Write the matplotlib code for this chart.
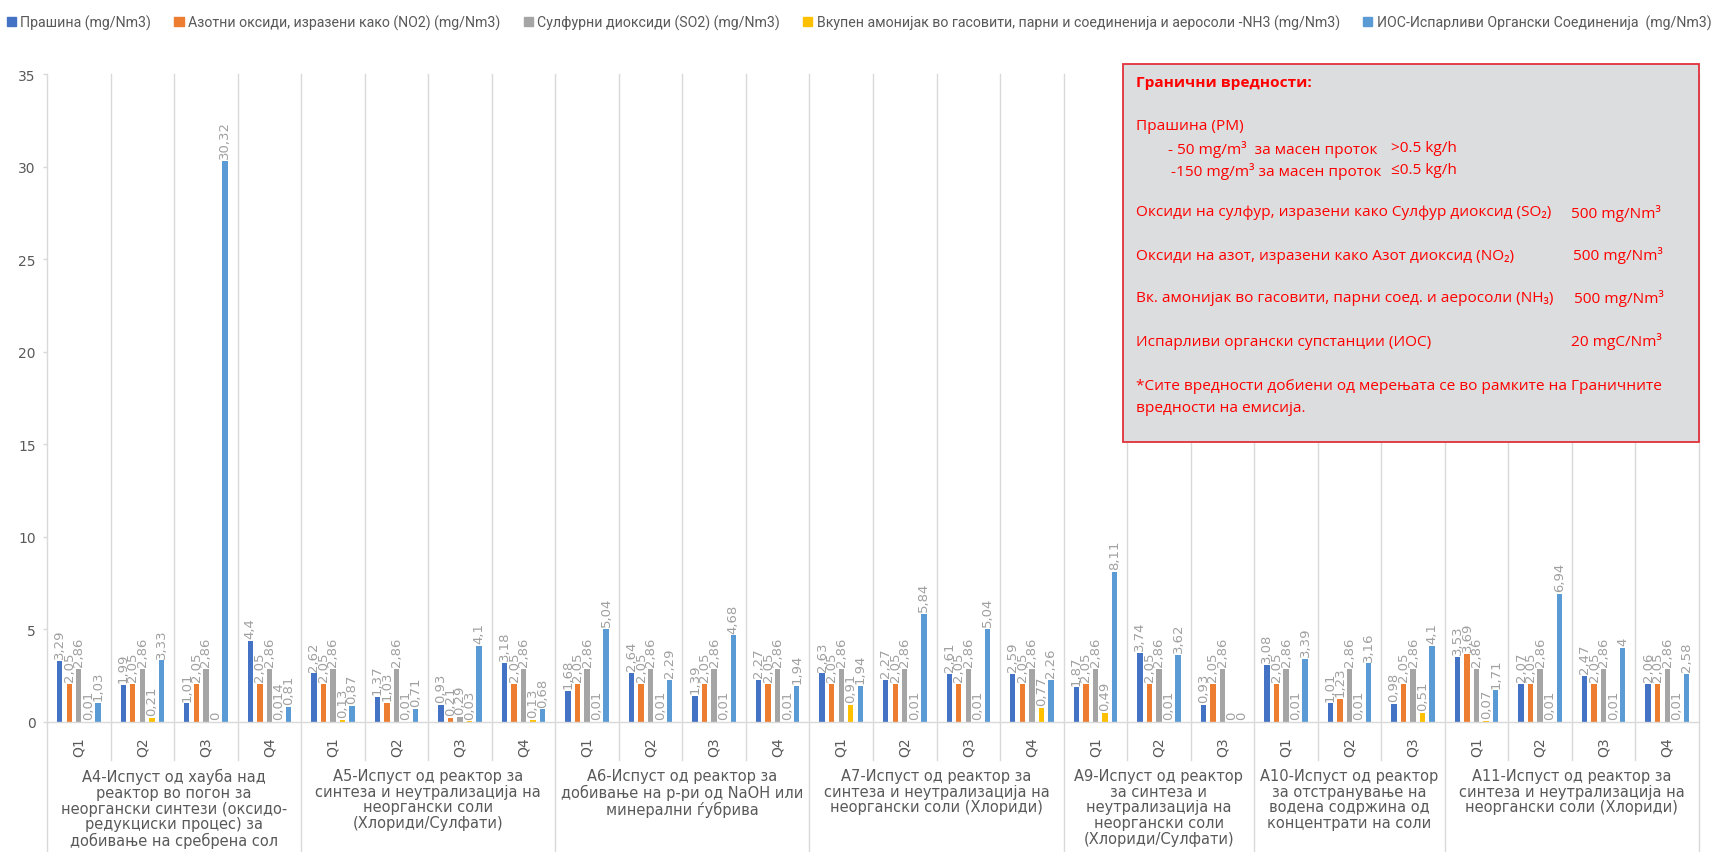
import matplotlib
matplotlib.use("Agg")
import matplotlib.pyplot as plt
from matplotlib.patches import Rectangle
from matplotlib.transforms import blended_transform_factory
import numpy as np

# ---------------- data ----------------
group_labels = [
    "A4-Испуст од хауба над\nреактор во погон за\nнеоргански синтези (оксидо-\nредукциски процес) за\nдобивање на сребрена сол",
    "A5-Испуст од реактор за\nсинтеза и неутрализација на\nнеоргански соли\n(Хлориди/Сулфати)",
    "A6-Испуст од реактор за\nдобивање на р-ри од NaOH или\nминерални ѓубрива",
    "A7-Испуст од реактор за\nсинтеза и неутрализација на\nнеоргански соли (Хлориди)",
    "A9-Испуст од реактор\nза синтеза и\nнеутрализација на\nнеоргански соли\n(Хлориди/Сулфати)",
    "A10-Испуст од реактор\nза отстранување на\nводена содржина од\nконцентрати на соли",
    "A11-Испуст од реактор за\nсинтеза и неутрализација на\nнеоргански соли (Хлориди)",
]
group_sizes = [4, 4, 4, 4, 3, 3, 4]
quarters = ["Q1", "Q2", "Q3", "Q4",
            "Q1", "Q2", "Q3", "Q4",
            "Q1", "Q2", "Q3", "Q4",
            "Q1", "Q2", "Q3", "Q4",
            "Q1", "Q2", "Q3",
            "Q1", "Q2", "Q3",
            "Q1", "Q2", "Q3", "Q4"]

dust = [3.29, 1.99, 1.01, 4.4,
        2.62, 1.37, 0.93, 3.18,
        1.68, 2.64, 1.39, 2.27,
        2.63, 2.27, 2.61, 2.59,
        1.87, 3.74, 0.93,
        3.08, 1.01, 0.98,
        3.53, 2.07, 2.47, 2.06]
no2 = [2.05, 2.05, 2.05, 2.05,
       2.05, 1.03, 0.21, 2.05,
       2.05, 2.05, 2.05, 2.05,
       2.05, 2.05, 2.05, 2.05,
       2.05, 2.05, 2.05,
       2.05, 1.23, 2.05,
       3.69, 2.05, 2.05, 2.05]
so2 = [2.86, 2.86, 2.86, 2.86,
       2.86, 2.86, 0.29, 2.86,
       2.86, 2.86, 2.86, 2.86,
       2.86, 2.86, 2.86, 2.86,
       2.86, 2.86, 2.86,
       2.86, 2.86, 2.86,
       2.86, 2.86, 2.86, 2.86]
nh3 = [0.01, 0.21, 0, 0.014,
       0.13, 0.01, 0.03, 0.13,
       0.01, 0.01, 0.01, 0.01,
       0.91, 0.01, 0.01, 0.77,
       0.49, 0.01, 0,
       0.01, 0.01, 0.51,
       0.07, 0.01, 0.01, 0.01]
voc = [1.03, 3.33, 30.32, 0.81,
       0.87, 0.71, 4.1, 0.68,
       5.04, 2.29, 4.68, 1.94,
       1.94, 5.84, 5.04, 2.26,
       8.11, 3.62, 0,
       3.39, 3.16, 4.1,
       1.71, 6.94, 4, 2.58]

series_names = [
    "Прашина (mg/Nm3)",
    "Азотни оксиди, изразени како (NO2) (mg/Nm3)",
    "Сулфурни диоксиди (SO2) (mg/Nm3)",
    "Вкупен амонијак во гасовити, парни и соединенија и аеросоли -NH3 (mg/Nm3)",
    "ИОС-Испарливи Органски Соединенија  (mg/Nm3)",
]
series_values = [dust, no2, so2, nh3, voc]
series_colors = ["#4472C4", "#ED7D31", "#A5A5A5", "#FFC000", "#5B9BD5"]

y_ticks = [0, 5, 10, 15, 20, 25, 30, 35]

# ---------------- figure ----------------
W, H = 1718, 853
fig = plt.figure(figsize=(W / 100, H / 100), dpi=100)
left_px, right_px, top_px, zero_px = 47, 1699, 75, 723
ax = fig.add_axes([left_px / W, 1 - zero_px / H,
                   (right_px - left_px) / W, (zero_px - top_px) / H])

n = len(quarters)
x = np.arange(n)
step = 0.15
bw = 0.085
label_color = "#A0A0A0"
text_gray = "#595959"
grid_color = "#D9D9D9"

for k, (vals, col) in enumerate(zip(series_values, series_colors)):
    pos = x + (k - 2) * step
    bars = ax.bar(pos, vals, width=bw, color=col, label=series_names[k], zorder=3)
    labels = [f"{v:g}".replace(".", ",") for v in vals]
    ax.bar_label(bars, labels=labels, rotation=90, padding=2,
                 color=label_color, fontsize=9.5, family="DejaVu Sans")

ax.set_xlim(-0.5, n - 0.5)
ax.set_ylim(0, 35)
ax.set_yticks(y_ticks)
ax.set_yticklabels([str(t) for t in y_ticks])
ax.tick_params(axis="y", length=3, width=1, color=grid_color, labelcolor=text_gray,
               labelsize=10, pad=5)
ax.set_xticks([])
for s in ["left", "right", "top"]:
    ax.spines[s].set_visible(False)
ax.spines["bottom"].set_color(grid_color)
ax.spines["bottom"].set_linewidth(1)
ax.spines["bottom"].set_zorder(4)

trans = blended_transform_factory(ax.transData, ax.transAxes)
ax_h_px = zero_px - top_px

def ay(px):
    # figure pixel y (from top) -> axes fraction
    return (zero_px - px) / ax_h_px

# group boundaries
bounds = np.cumsum([0] + group_sizes)
group_edges = set(bounds.tolist())
for i in range(n + 1):
    xb = i - 0.5
    ybot = ay(H) if i in group_edges else ay(761)
    ax.plot([xb, xb], [1, ybot], color=grid_color, lw=1, transform=trans,
            clip_on=False, zorder=1)

# quarter labels
for i, q in enumerate(quarters):
    ax.text(i, ay(747), q, rotation=90, ha="center", va="center",
            color=text_gray, fontsize=10, transform=trans, clip_on=False)

# group labels
for g, lab in enumerate(group_labels):
    cx = (bounds[g] + bounds[g + 1] - 1) / 2
    ax.text(cx, ay(769), lab, ha="center", va="top", color=text_gray,
            fontsize=10.5, linespacing=1.06, transform=trans, clip_on=False)

# legend
handles = [Rectangle((0, 0), 1, 1, color=c) for c in series_colors]
fig.legend(handles, series_names, loc="upper center", bbox_to_anchor=(0.5, 1.0),
           ncol=5, frameon=False, handlelength=0.65, handleheight=0.65,
           handletextpad=0.3, columnspacing=1.65,
           labelcolor=text_gray, prop={"family": ["Roboto", "DejaVu Sans"], "size": 10.2},
           borderaxespad=0.7)

# annotation box
bx0, by0, bx1, by1 = 1123, 65, 1699, 443
fig.add_artist(Rectangle((bx0 / W, 1 - by1 / H), (bx1 - bx0) / W, (by1 - by0) / H,
                         transform=fig.transFigure, facecolor="#DCDDDE",
                         edgecolor="#E0303A", lw=1.3, zorder=10))

red = "#FF0000"
fam = ["Open Sans", "DejaVu Sans"]

def ftext(px, py, s, **kw):
    fig.text(px / W, 1 - py / H, s, color=red, family=fam, fontsize=11.1,
             va="center", ha="left", zorder=11, **kw)

ftext(1136, 83, "Гранични вредности:", fontweight="bold")
ftext(1136, 127, "Прашина (PM)")
ftext(1168, 149, "- 50 mg/m³  за масен проток")
ftext(1391, 149, ">0.5 kg/h")
ftext(1171, 171, "-150 mg/m³ за масен проток")
ftext(1391, 171, "≤0.5 kg/h")
ftext(1136, 213, "Оксиди на сулфур, изразени како Сулфур диоксид (SO₂)")
ftext(1571, 213, "500 mg/Nm³")
ftext(1136, 256, "Оксиди на азот, изразени како Азот диоксид (NO₂)")
ftext(1573, 256, "500 mg/Nm³")
ftext(1136, 299, "Вк. амонијак во гасовити, парни соед. и аеросоли (NH₃)")
ftext(1574, 299, "500 mg/Nm³")
ftext(1136, 342, "Испарливи органски супстанции (ИОС)")
ftext(1571, 342, "20 mgC/Nm³")
ftext(1136, 387, "*Сите вредности добиени од мерењата се во рамките на Граничните")
ftext(1136, 409, "вредности на емисија.")

fig.savefig("out.png", dpi=100)
